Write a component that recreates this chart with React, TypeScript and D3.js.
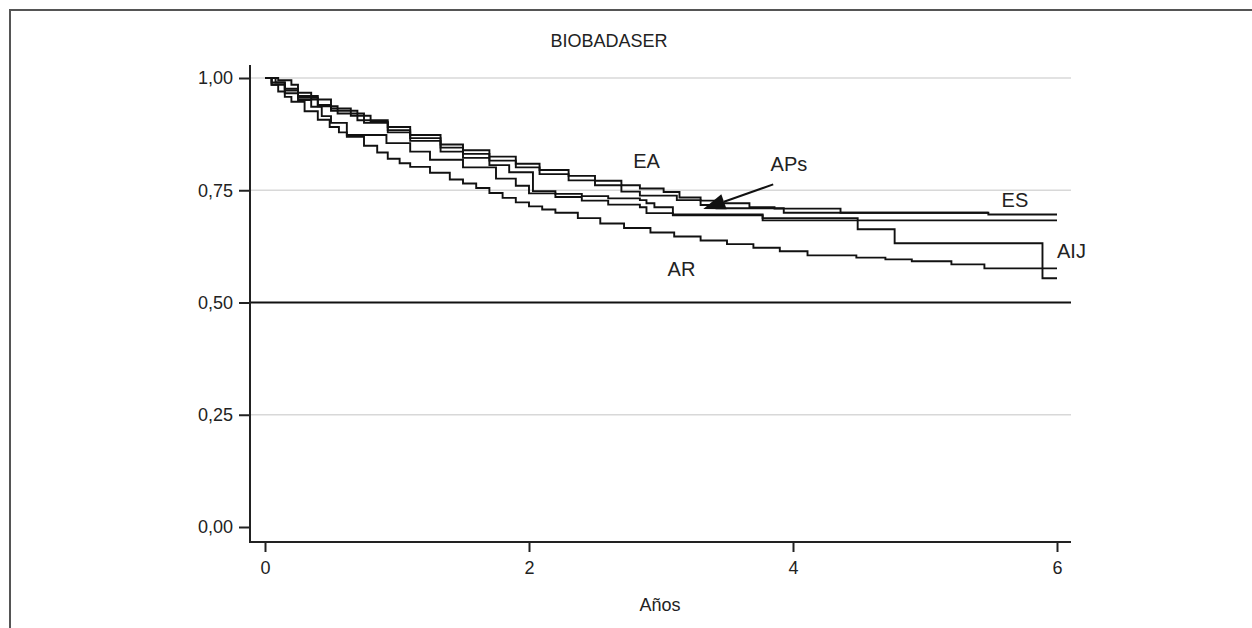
import React, { useRef, useEffect } from 'react';
import * as d3 from 'd3';

type Pt = [number, number];

// Kaplan-Meier survival: [years, survival]
const EA: Pt[] = [[0, 1], [0.1, 0.995], [0.2, 0.985], [0.25, 0.967], [0.35, 0.952], [0.5, 0.932], [0.65, 0.916], [0.8, 0.902], [0.93, 0.891], [1.1, 0.873], [1.33, 0.852], [1.5, 0.839], [1.7, 0.825], [1.9, 0.809], [2.08, 0.795], [2.3, 0.782], [2.5, 0.771], [2.7, 0.761], [2.84, 0.754], [3.02, 0.746], [3.14, 0.734], [3.3, 0.727], [3.45, 0.721], [3.67, 0.712], [3.86, 0.709], [4.36, 0.700], [5.48, 0.696], [6.0, 0.696]];
const ES: Pt[] = [[0, 1], [0.08, 0.99], [0.15, 0.976], [0.25, 0.96], [0.4, 0.94], [0.5, 0.927], [0.7, 0.906], [0.93, 0.884], [1.1, 0.866], [1.33, 0.845], [1.5, 0.831], [1.7, 0.816], [1.9, 0.801], [2.08, 0.786], [2.3, 0.772], [2.5, 0.761], [2.7, 0.747], [2.84, 0.738], [3.12, 0.728], [3.3, 0.717], [3.42, 0.710], [3.93, 0.700], [5.48, 0.700]];
const AIJ: Pt[] = [[0, 1], [0.05, 0.99], [0.15, 0.972], [0.25, 0.956], [0.4, 0.937], [0.55, 0.921], [0.75, 0.9], [0.93, 0.879], [1.1, 0.86], [1.33, 0.836], [1.5, 0.822], [1.7, 0.806], [1.85, 0.79], [2.03, 0.748], [2.2, 0.742], [2.4, 0.737], [2.6, 0.732], [2.84, 0.728], [2.89, 0.721], [2.95, 0.712], [3.09, 0.694], [3.77, 0.688], [4.49, 0.663], [4.77, 0.632], [5.89, 0.554], [6.0, 0.554]];
const APs: Pt[] = [[0, 1], [0.05, 0.985], [0.15, 0.966], [0.25, 0.951], [0.35, 0.936], [0.43, 0.915], [0.5, 0.9], [0.62, 0.873], [0.92, 0.855], [1.1, 0.836], [1.25, 0.818], [1.5, 0.801], [1.75, 0.776], [1.9, 0.76], [2.0, 0.743], [2.2, 0.735], [2.4, 0.727], [2.6, 0.718], [2.84, 0.712], [2.89, 0.699], [3.09, 0.696], [3.77, 0.683], [6.0, 0.683]];
const AR: Pt[] = [[0, 1], [0.05, 0.985], [0.1, 0.97], [0.15, 0.958], [0.2, 0.947], [0.3, 0.926], [0.4, 0.907], [0.49, 0.891], [0.56, 0.879], [0.62, 0.869], [0.75, 0.849], [0.85, 0.834], [0.93, 0.82], [1.02, 0.81], [1.1, 0.802], [1.25, 0.789], [1.4, 0.774], [1.5, 0.765], [1.6, 0.755], [1.7, 0.744], [1.8, 0.733], [1.9, 0.723], [2.0, 0.714], [2.1, 0.707], [2.2, 0.7], [2.37, 0.688], [2.54, 0.676], [2.72, 0.666], [2.92, 0.656], [3.1, 0.647], [3.3, 0.638], [3.5, 0.63], [3.7, 0.622], [3.9, 0.614], [4.11, 0.605], [4.48, 0.600], [4.7, 0.596], [4.9, 0.592], [5.2, 0.585], [5.45, 0.576], [6.0, 0.576]];

const curves = [EA, ES, AIJ, APs, AR];

const xTicks = [0, 2, 4, 6];
const yTicks = [0, 0.25, 0.5, 0.75, 1];
const gridTicks = [0.25, 0.75, 1];

// label text with its anchor in data units
const labels: { text: string; t: number; s: number }[] = [
    { text: 'EA', t: 2.79, s: 0.799 },
    { text: 'APs', t: 3.83, s: 0.792 },
    { text: 'ES', t: 5.58, s: 0.712 },
    { text: 'AIJ', t: 6.0, s: 0.598 },
    { text: 'AR', t: 3.05, s: 0.56 },
];
const arrowFrom: Pt = [3.85, 0.763];
const arrowTo: Pt = [3.32, 0.708];

const W = 1252;
const H = 628;
const FONT = "'Liberation Sans', Arial, Helvetica, sans-serif";

const App: React.FC = () => {
    const ref = useRef<SVGSVGElement>(null);

    useEffect(() => {
        if (!ref.current) return;
        const svg = d3.select(ref.current);
        svg.selectAll('*').remove();

        const x = d3.scaleLinear().domain([0, 6]).range([265, 1057]);
        const y = d3.scaleLinear().domain([0, 1]).range([527, 78]);
        const left = 250, right = 1071, top = 65, bottom = 542;

        const fmt = d3.formatLocale({ decimal: ',', thousands: '.', grouping: [3], currency: ['', '€'] }).format('.2f');

        svg.append('rect').attr('width', W).attr('height', H).attr('fill', '#fff');
        svg.append('rect')
            .attr('x', 10).attr('y', 10).attr('width', W + 100).attr('height', H + 100)
            .attr('fill', 'none').attr('stroke', '#555').attr('stroke-width', 2);

        // title
        svg.append('text')
            .attr('x', 609).attr('y', 47)
            .attr('text-anchor', 'middle')
            .style('font-family', FONT).style('font-size', '18px').attr('fill', '#222')
            .text('BIOBADASER');

        // grid
        svg.append('g').selectAll('line').data(gridTicks).enter().append('line')
            .attr('x1', left).attr('x2', right)
            .attr('y1', d => y(d)).attr('y2', d => y(d))
            .attr('stroke', '#d8d8d8').attr('stroke-width', 1.5);
        svg.append('line')
            .attr('x1', left).attr('x2', right)
            .attr('y1', y(0.5)).attr('y2', y(0.5))
            .attr('stroke', '#111').attr('stroke-width', 1.8);

        // y axis
        const yAxis = svg.append('g')
            .attr('transform', `translate(${left},0)`)
            .call(d3.axisLeft(y).tickValues(yTicks).tickSize(11).tickSizeOuter(0).tickPadding(6).tickFormat(d => fmt(d as number)));
        yAxis.select('.domain').remove();
        yAxis.selectAll('line').attr('stroke', '#222').attr('stroke-width', 2);
        yAxis.selectAll('text').style('font-family', FONT).style('font-size', '18px').attr('fill', '#222');
        svg.append('line').attr('x1', left).attr('x2', left).attr('y1', top).attr('y2', bottom)
            .attr('stroke', '#222').attr('stroke-width', 2);

        // x axis
        const xAxis = svg.append('g')
            .attr('transform', `translate(0,${bottom})`)
            .call(d3.axisBottom(x).tickValues(xTicks).tickSize(10).tickSizeOuter(0).tickPadding(9).tickFormat(d3.format('d')));
        xAxis.select('.domain').remove();
        xAxis.selectAll('line').attr('stroke', '#222').attr('stroke-width', 2);
        xAxis.selectAll('text').style('font-family', FONT).style('font-size', '18px').attr('fill', '#222');
        svg.append('line').attr('x1', left - 1).attr('x2', right).attr('y1', bottom).attr('y2', bottom)
            .attr('stroke', '#222').attr('stroke-width', 2);

        svg.append('text')
            .attr('x', 660).attr('y', 611)
            .attr('text-anchor', 'middle')
            .style('font-family', FONT).style('font-size', '18px').attr('fill', '#222')
            .text('Años');

        // step curves
        const line = d3.line<Pt>().x(d => x(d[0])).y(d => y(d[1])).curve(d3.curveStepAfter);
        svg.append('g').selectAll('path').data(curves).enter().append('path')
            .attr('d', d => line(d))
            .attr('fill', 'none').attr('stroke', '#111').attr('stroke-width', 1.9);

        // labels
        svg.append('g').selectAll('text').data(labels).enter().append('text')
            .attr('x', d => x(d.t)).attr('y', d => y(d.s))
            .style('font-family', FONT).style('font-size', '20px').attr('fill', '#222')
            .text(d => d.text);

        // arrow to APs
        const [x0, y0] = [x(arrowFrom[0]), y(arrowFrom[1])];
        const [x1, y1] = [x(arrowTo[0]), y(arrowTo[1])];
        const len = Math.hypot(x1 - x0, y1 - y0);
        const ux = (x1 - x0) / len, uy = (y1 - y0) / len;
        const headL = 22, headW = 8;
        const bx = x1 - ux * headL, by = y1 - uy * headL;
        svg.append('line').attr('x1', x0).attr('y1', y0).attr('x2', bx).attr('y2', by)
            .attr('stroke', '#111').attr('stroke-width', 2);
        svg.append('path')
            .attr('d', `M${x1},${y1}L${bx - uy * headW},${by + ux * headW}L${bx + uy * headW},${by - ux * headW}Z`)
            .attr('fill', '#111');
    }, []);

    return (
        <svg ref={ref} width={W} height={H} style={{ position: 'absolute', left: 0, top: 0 }}></svg>
    );
};

export default App;
